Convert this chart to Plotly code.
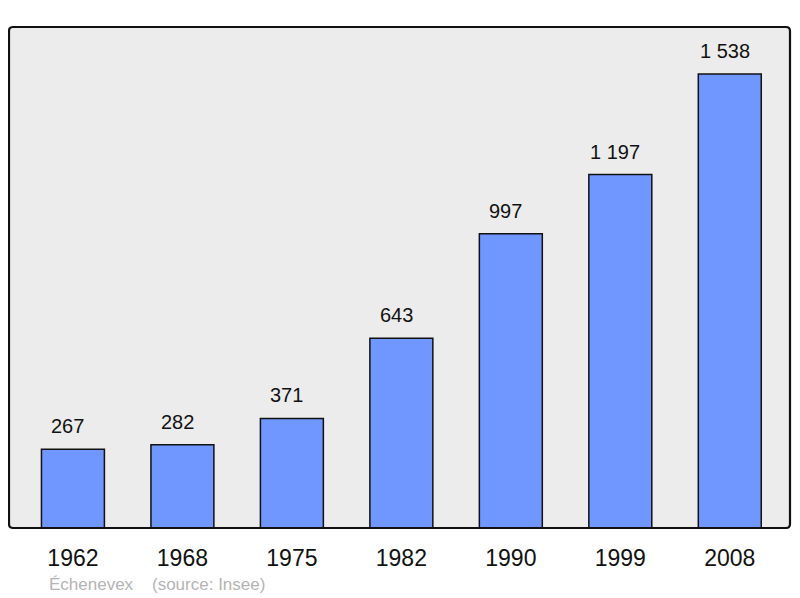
import plotly.graph_objects as go

years = ["1962", "1968", "1975", "1982", "1990", "1999", "2008"]
population = [267, 282, 371, 643, 997, 1197, 1538]
labels = ["267", "282", "371", "643", "997", "1 197", "1 538"]

# page body has an 8px margin; compensate
OFF = 8
W, H = 800 - OFF, 598 - OFF
L, R, T, B = 9 - OFF, 10, 27 - OFF, 70
PW, PH = W - L - R, H - T - B
xs = list(range(len(years)))
FONT = "Liberation Sans, Arial"

fig = go.Figure()
fig.add_trace(go.Bar(
    x=xs, y=population, width=0.575,
    marker=dict(color="#7096ff", line=dict(color="#111111", width=1.5)),
    hoverinfo="skip",
))
for xi, v, lab in zip(xs, population, labels):
    fig.add_annotation(x=xi, y=v, text=lab, showarrow=False, yanchor="bottom",
                       yshift=10, xshift=-5,
                       font=dict(size=20, color="#111111", family=FONT))

# rounded plot frame
rx, ry = 4 / PW, 4 / PH
path = (f"M {rx},0 L {1-rx},0 Q 1,0 1,{ry} L 1,{1-ry} Q 1,1 {1-rx},1 "
        f"L {rx},1 Q 0,1 0,{1-ry} L 0,{ry} Q 0,0 {rx},0 Z")
fig.add_shape(type="path", xref="paper", yref="paper", path=path,
              line=dict(color="#111111", width=2.2), fillcolor="rgba(0,0,0,0)", layer="above")

fig.add_annotation(xref="paper", yref="paper", x=(47 - OFF - L) / PW,
                   y=-(584 - OFF - (H - B)) / PH,
                   xanchor="left", yanchor="middle", showarrow=False,
                   text="Échenevex&nbsp;&nbsp;&nbsp;&nbsp;(source: Insee)",
                   font=dict(size=17, color="#b4b4b4", family=FONT))

fig.update_layout(
    width=W, height=H,
    margin=dict(l=L, r=R, t=T, b=B),
    paper_bgcolor="white", plot_bgcolor="#ececec",
    showlegend=False,
    xaxis=dict(tickmode="array", tickvals=xs, ticktext=years, range=[-0.584, 6.55],
               showgrid=False, zeroline=False, ticks="outside", ticklen=9,
               tickcolor="rgba(0,0,0,0)", showline=False,
               tickfont=dict(size=23, color="#111111", family=FONT)),
    yaxis=dict(range=[0, 1697], showgrid=False, zeroline=False, showticklabels=False,
               showline=False),
)
fig.write_html("out.html")
